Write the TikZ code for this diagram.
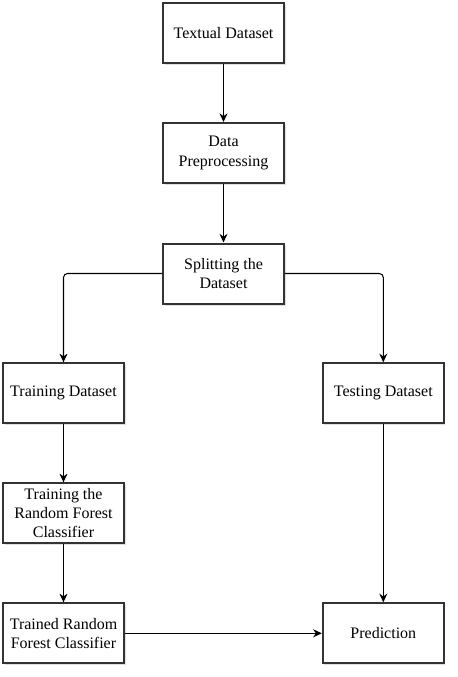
\documentclass[tikz,border=0pt]{standalone}
\usepackage{fontspec}
\setmainfont{Liberation Serif}
\usetikzlibrary{arrows.meta,shadows}
\begin{document}
\begin{tikzpicture}[x=0.75pt,y=-0.75pt,%
% common options for boxes:
box/.style = {rectangle, draw=black!80, line width=1.5pt, fill=white, align=center,
            minimum width=90.75pt, minimum height=45pt, inner sep=0,
            font=\fontsize{12}{14.3}\selectfont,
            drop shadow={opacity=0.25, shadow xshift=1.2pt, shadow yshift=-1.5pt}},
% common options for the arrows:
flow/.style = {-{Stealth[length=6.5pt,width=6pt]}, line width=0.8pt, rounded corners=3pt}]
\useasboundingbox (0,0) rectangle (457,677);
\node[box] (D0) at (223.5,33.3) {Textual Dataset};
\node[box] (D1) at (223.5,153) {Data\\Preprocessing};
\node[box] (D2) at (223.5,273.5) {Splitting the\\Dataset};
\node[box] (T0) at (63.5,393.3) {Training Dataset};
\node[box] (T1) at (63.5,513.3) {Training the\\Random Forest\\Classifier};
\node[box] (T2) at (63.5,633.3) {Trained Random\\Forest Classifier};
\node[box] (P0) at (383.3,393.3) {Testing Dataset};
\node[box] (P1) at (383.3,633.3) {Prediction};
\draw[flow] (D0.south) to (D1.north);
\draw[flow] (D1.south) to (D2.north);
\draw[flow] (D2.west) -| (T0.north);
\draw[flow] (D2.east) -| (P0.north);
\draw[flow] (T0.south) to (T1.north);
\draw[flow] (T1.south) to (T2.north);
\draw[flow] (P0.south) to (P1.north);
\draw[flow] (T2.east) to (P1.west);
\end{tikzpicture}
\end{document}
